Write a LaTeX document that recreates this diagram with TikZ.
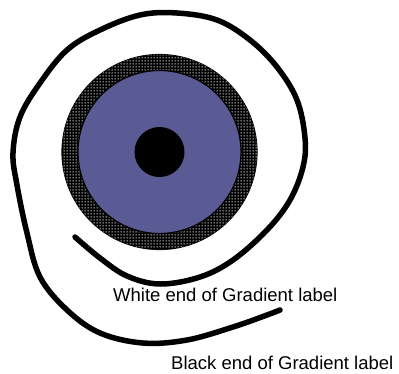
\documentclass[tikz,border=0pt]{standalone}
\usepackage{fontspec}
\setmainfont{Liberation Sans}
\usepackage{tikz}
\usetikzlibrary{patterns, positioning}
\definecolor{coreblue}{HTML}{5A5A95}

\pgfdeclarepatternformonly{rimdots}{\pgfqpoint{0pt}{0pt}}{\pgfqpoint{3pt}{3pt}}%
  {\pgfqpoint{3pt}{3pt}}{%
  \pgfpathrectangle{\pgfqpoint{0.7pt}{0.7pt}}{\pgfqpoint{1.6pt}{1.6pt}}%
  \pgfusepath{fill}}

\tikzset{
  ring/.style={circle, draw=black, line width=1.2pt, fill=black,
               postaction={pattern=rimdots, pattern color=white}},
  spiral/.style={line width=5.5pt, line cap=round, line join=round},
  gradlabel/.style={inner sep=0pt, font=\fontsize{18.5}{22}\selectfont}
}

\begin{document}
\begin{tikzpicture}[x=1pt, y=-1pt]
    \useasboundingbox (0,0) rectangle (399,373);
    % nested discs
    \node[ring, minimum size=195pt] (rim) at (159.5,152) {};
    \node[circle, draw=black, line width=1.2pt, fill=coreblue,
          minimum size=163pt] (core) at (rim.center) {};
    \node[circle, fill=black, minimum size=50pt] (hub) at (rim.center) {};
    % the spiral
    \draw[spiral] plot[smooth, tension=0.6] coordinates {
      (75,237) (100,258) (127,276) (160,284) (200,277) (233,260)
      (267,230) (290,200) (303,167) (305,138) (297,100) (277,67)
      (250,40) (217,20) (177,13) (140,15) (100,30) (67,50) (40,83)
      (20,117) (13,153) (17,185) (27,233) (40,277) (67,310)
      (100,333) (143,343) (187,340) (233,327) (267,315) (280,310)};
    % labels
    \node[gradlabel, anchor=base west] (white) at (113,301.5) {White end of Gradient label};
    \node[gradlabel, anchor=base west] (black) at (171,369.5) {Black end of Gradient label};
  \end{tikzpicture}
\end{document}
